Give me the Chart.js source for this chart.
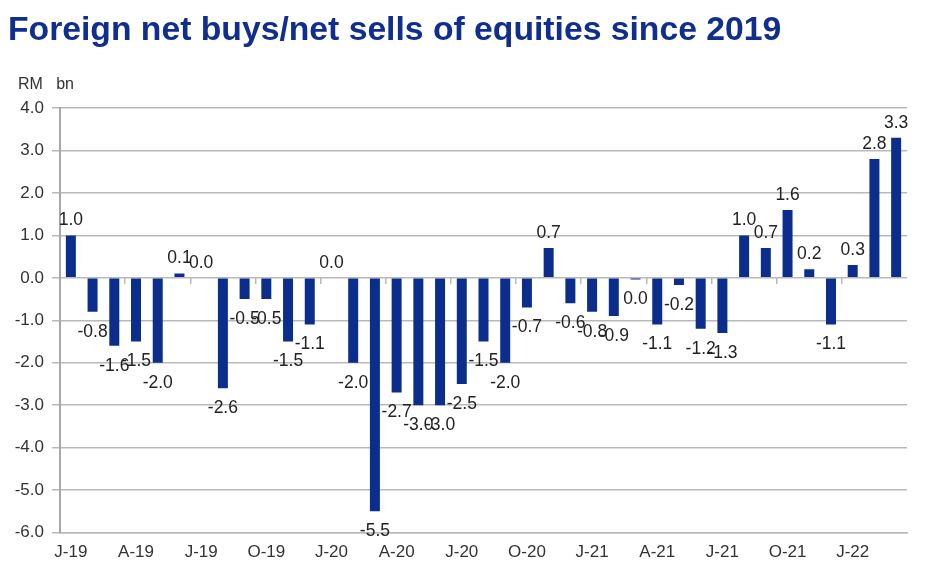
<!DOCTYPE html>
<html>
<head>
<meta charset="utf-8">
<script src="https://cdn.jsdelivr.net/npm/chart.js@4/dist/chart.umd.min.js"></script>
<style>
  html, body { margin: 0; padding: 0; background: #fff; }
  #wrap { position: relative; width: 935px; height: 586px; }
  #title {
    position: absolute; left: 8px; top: 9px;
    font: bold 33.7px/38px "Liberation Sans", Arial, sans-serif;
    color: #0f2e8e; white-space: nowrap;
  }
  #unit {
    position: absolute; left: 18px; top: 76px;
    font: 16px/16px "Liberation Sans", Arial, sans-serif;
    color: #333; white-space: pre;
  }
  canvas { position: absolute; left: 0; top: 0; }
</style>
</head>
<body>
<div id="wrap">
  <canvas id="flows" width="935" height="586"></canvas>
  <div id="title">Foreign net buys/net sells of equities since 2019</div>
  <div id="unit">RM   bn</div>
</div>
<script>
// months Jan-19 .. Mar-22, labelled by initial like the source
let months = [
    'J-19', 'F-19', 'M-19', 'A-19', 'M-19', 'J-19', 'J-19', 'A-19', 'S-19', 'O-19', 'N-19', 'D-19',
    'J-20', 'F-20', 'M-20', 'A-20', 'M-20', 'J-20', 'J-20', 'A-20', 'S-20', 'O-20', 'N-20', 'D-20',
    'J-21', 'F-21', 'M-21', 'A-21', 'M-21', 'J-21', 'J-21', 'A-21', 'S-21', 'O-21', 'N-21', 'D-21',
    'J-22', 'F-22', 'M-22'
];

// foreign net buys (+) / net sells (-), RM bn
let netFlows = [
    1.0, -0.8, -1.6, -1.5, -2.0, 0.1, 0.0, -2.6, -0.5, -0.5, -1.5, -1.1,
    0.0, -2.0, -5.5, -2.7, -3.0, -3.0, -2.5, -1.5, -2.0, -0.7, 0.7, -0.6,
    -0.8, -0.9, -0.04, -1.1, -0.17, -1.2, -1.3, 1.0, 0.7, 1.6, 0.2, -1.1,
    0.3, 2.8, 3.3
];

// only every third month gets a tick label
let tickEvery = 3;

let yTicks = [4, 3, 2, 1, 0, -1, -2, -3, -4, -5, -6];

let fontFamily = '"Liberation Sans", Arial, sans-serif';
let gridGrey = '#b9b9b9';

function fmt(v) {
    if (Math.abs(v) < 0.05) return '0.0';
    return v.toFixed(1);
}

// value labels above / below each bar
let barLabels = {
    id: 'barLabels',
    afterDatasetsDraw: function(chart) {
        let ctx = chart.ctx;
        let meta = chart.getDatasetMeta(0);
        ctx.save();
        ctx.font = '17.5px ' + fontFamily;
        ctx.fillStyle = '#222';
        ctx.textAlign = 'center';
        ctx.textBaseline = 'middle';
        meta.data.forEach(function(bar, i) {
            let v = netFlows[i];
            let y = v >= 0 ? bar.y - 15 : bar.y + 20;
            ctx.fillText(fmt(v), bar.x, y);
        });
        ctx.restore();
    }
};

let data = {
    labels: months,
    datasets: [{
        label: 'Net flows',
        data: netFlows,
        backgroundColor: '#0b2e8c',
        borderWidth: 0,
        barPercentage: 0.46,
        categoryPercentage: 1.0,
        xAxisID: 'x'
    }]
};

let config = {
    type: 'bar',
    data: data,
    options: {
        responsive: false,
        animation: false,
        layout: {
            padding: { top: 108, right: 28, bottom: 21, left: 0 }
        },
        plugins: {
            legend: { display: false },
            tooltip: { enabled: false }
        },
        scales: {
            x: {
                offset: true,
                grid: { display: false },
                border: { display: true, color: gridGrey, width: 1.5 },
                ticks: {
                    autoSkip: false,
                    maxRotation: 0,
                    padding: 2,
                    color: '#333',
                    font: { family: fontFamily, size: 17 },
                    callback: function(value, index) {
                        return index % tickEvery === 0 ? months[index] : '';
                    }
                }
            },
            xZero: {
                type: 'category',
                position: { y: 0 },
                offset: true,
                grid: {
                    offset: true,
                    drawOnChartArea: false,
                    drawTicks: true,
                    tickLength: 6,
                    lineWidth: 1.5,
                    color: function(c) {
                        return (c.index > 0 && c.index % tickEvery === 0) ? gridGrey : 'rgba(0,0,0,0)';
                    }
                },
                border: { display: false },
                ticks: { display: false, autoSkip: false }
            },
            y: {
                min: -6,
                max: 4,
                afterFit: function(scale) { scale.width = 60; },
                afterBuildTicks: function(scale) {
                    scale.ticks = yTicks.map(function(v) { return { value: v }; });
                },
                grid: {
                    color: gridGrey,
                    lineWidth: 1.5,
                    tickLength: 8
                },
                border: { color: '#a8a8a8', width: 2 },
                ticks: {
                    padding: 8,
                    color: '#333',
                    font: { family: fontFamily, size: 17 },
                    callback: function(v) { return v.toFixed(1); }
                }
            }
        }
    },
    plugins: [barLabels]
};

let flowsChart = new Chart(document.getElementById('flows'), config);
</script>
</body>
</html>
